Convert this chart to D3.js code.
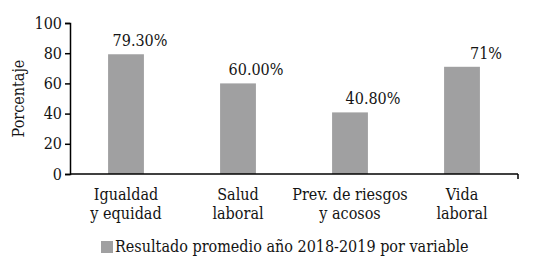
<!DOCTYPE html>
<html>
<head>
<meta charset="utf-8">
<script src="https://cdn.jsdelivr.net/npm/d3@7"></script>
<style>
  body { margin: 0; background: #fff; }
  text { font-family: "DejaVu Serif", serif; font-stretch: condensed; fill: #141414; }
</style>
</head>
<body>
<script>
// data
const categories = [["Igualdad", "y equidad"], ["Salud", "laboral"], ["Prev. de riesgos", "y acosos"], ["Vida", "laboral"]];
const values = [79.3, 60.0, 40.8, 71];
const valueLabels = ["79.30%", "60.00%", "40.80%", "71%"];
const yTicks = [0, 20, 40, 60, 80, 100];
const seriesName = "Resultado promedio año 2018-2019 por variable";

// labels in the source sit a bit right of each bar
const labelDx = [14, 18, 23, 24];

const fontSize = '16px';
const width = 543, height = 261;
const margin = { top: 23, right: 25, bottom: 87, left: 70 };
const innerW = width - margin.left - margin.right;
const innerH = height - margin.top - margin.bottom;

const svg = d3.select('body').append('svg')
	.attr('width', width)
	.attr('height', height);

const g = svg.append('g')
	.attr('transform', `translate(${margin.left},${margin.top})`);

const xScale = d3.scaleBand()
	.domain(d3.range(categories.length))
	.range([0, innerW])
	.paddingInner(0.68)
	.paddingOuter(0.34);

const yScale = d3.scaleLinear()
	.domain([0, 100])
	.range([innerH, 0]);

// bars
g.selectAll('rect.bar')
	.data(values)
	.join('rect')
	.attr('class', 'bar')
	.attr('x', (d, i) => xScale(i))
	.attr('y', d => yScale(d))
	.attr('width', xScale.bandwidth())
	.attr('height', d => innerH - yScale(d))
	.attr('fill', '#a0a0a1');

// value labels
g.selectAll('text.val')
	.data(values)
	.join('text')
	.attr('class', 'val')
	.attr('x', (d, i) => xScale(i) + xScale.bandwidth() / 2 + labelDx[i])
	.attr('y', d => yScale(d) - 8)
	.attr('text-anchor', 'middle')
	.style('font-size', fontSize)
	.text((d, i) => valueLabels[i]);

// y axis
const yAxis = g.append('g')
	.call(d3.axisLeft(yScale).tickValues(yTicks).tickSize(5).tickPadding(3));
yAxis.select('.domain').attr('stroke', '#000').attr('stroke-width', 1.5);
yAxis.selectAll('.tick line').attr('stroke', '#000').attr('stroke-width', 1.5);
yAxis.selectAll('.tick text')
	.attr('fill', '#141414')
	.style('font-family', '"DejaVu Serif", serif')
	.style('font-stretch', 'condensed')
	.style('font-size', fontSize);

// x axis: baseline with one tick at the right end
g.append('line')
	.attr('x1', 0).attr('x2', innerW)
	.attr('y1', innerH).attr('y2', innerH)
	.attr('stroke', '#000').attr('stroke-width', 1.5);
g.append('line')
	.attr('x1', innerW).attr('x2', innerW)
	.attr('y1', innerH).attr('y2', innerH + 5)
	.attr('stroke', '#000').attr('stroke-width', 1.5);

// category labels on two lines
const cat = g.selectAll('text.cat')
	.data(categories)
	.join('text')
	.attr('class', 'cat')
	.attr('text-anchor', 'middle')
	.style('font-size', fontSize)
	.attr('transform', (d, i) => `translate(${xScale(i) + xScale.bandwidth() / 2},${innerH + 26})`);
cat.selectAll('tspan')
	.data(d => d)
	.join('tspan')
	.attr('x', 0)
	.attr('dy', (d, j) => j === 0 ? 0 : 19)
	.text(d => d);

// y title
svg.append('text')
	.attr('transform', `translate(24,${margin.top + innerH / 2}) rotate(-90)`)
	.attr('text-anchor', 'middle')
	.style('font-size', fontSize)
	.text('Porcentaje');

// legend
const legend = svg.append('g').attr('transform', 'translate(101,241)');
legend.append('rect')
	.attr('width', 12).attr('height', 12)
	.attr('fill', '#a0a0a1');
legend.append('text')
	.attr('x', 14).attr('y', 11)
	.style('font-size', fontSize)
	.text(seriesName);
</script>
</body>
</html>
